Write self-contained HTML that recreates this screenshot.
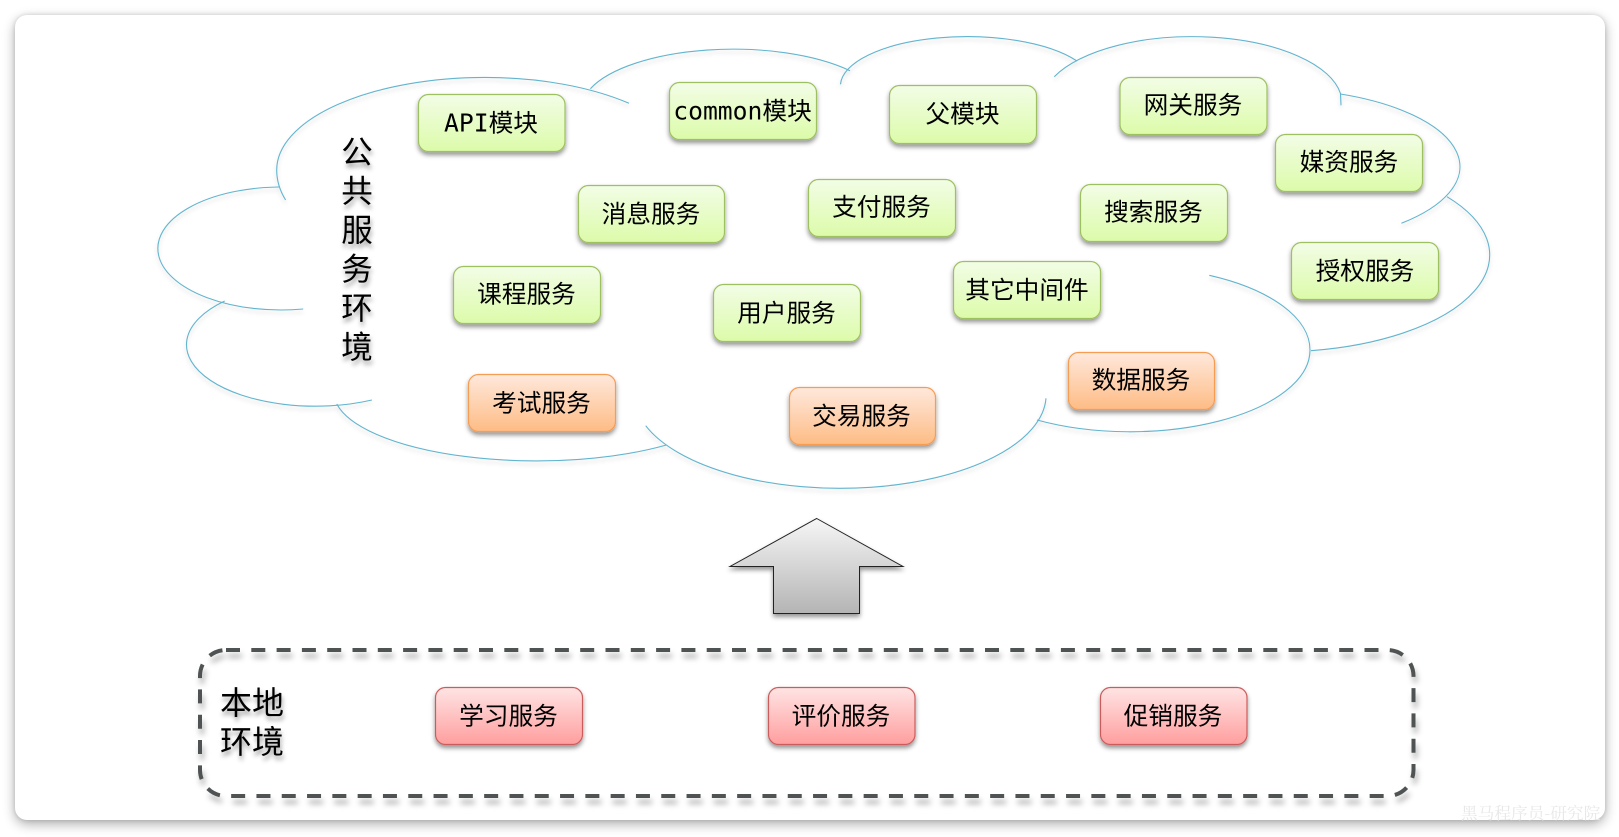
<!DOCTYPE html>
<html><head><meta charset="utf-8"><style>
html,body{margin:0;padding:0;background:#fff;width:1619px;height:837px;overflow:hidden}
#card{position:absolute;left:15px;top:15px;width:1589.5px;height:805px;background:#fff;border-radius:12px;box-shadow:0 4px 12px rgba(0,0,0,.33),0 0 4px rgba(0,0,0,.12)}
svg{position:absolute;left:0;top:0}
text{font-family:"DejaVu Sans Mono","WenQuanYi Zen Hei","Noto Sans CJK SC",sans-serif;fill:#000}
.t{font-size:24.7px;text-anchor:middle;transform:translateY(.5px)}
.l{font-size:31.5px;text-anchor:middle;filter:url(#ts)}
</style></head><body>
<div id="card"></div>
<svg width="1619" height="837" viewBox="0 0 1619 837" xmlns="http://www.w3.org/2000/svg">
<defs>
<linearGradient id="g" x1="0" y1="0" x2="0" y2="1"><stop offset="0" stop-color="#f2fde6"/><stop offset="1" stop-color="#dcfba9"/></linearGradient>
<linearGradient id="o" x1="0" y1="0" x2="0" y2="1"><stop offset="0" stop-color="#ffe8dc"/><stop offset="1" stop-color="#fdbc85"/></linearGradient>
<linearGradient id="r" x1="0" y1="0" x2="0" y2="1"><stop offset="0" stop-color="#ffe4e4"/><stop offset="1" stop-color="#ff9e9e"/></linearGradient>
<linearGradient id="a" x1="0" y1="0" x2="0" y2="1"><stop offset="0" stop-color="#f6f6f6"/><stop offset="1" stop-color="#b4b4b4"/></linearGradient>
<filter id="bs" x="-15%" y="-20%" width="130%" height="150%"><feDropShadow dx="0" dy="3" stdDeviation="2.5" flood-color="#000" flood-opacity=".42"/></filter>
<filter id="ls" x="-10%" y="-10%" width="120%" height="125%"><feDropShadow dx="0" dy="3" stdDeviation="2" flood-color="#000" flood-opacity=".16"/></filter>
<filter id="ds" x="-5%" y="-10%" width="110%" height="125%"><feDropShadow dx="2" dy="6" stdDeviation="3" flood-color="#000" flood-opacity=".3"/></filter>
<filter id="ts" x="-30%" y="-30%" width="160%" height="170%"><feDropShadow dx="1" dy="4" stdDeviation="2.5" flood-color="#000" flood-opacity=".4"/></filter>
</defs>

<g fill="none" stroke="#62b4cf" stroke-width="1.1" filter="url(#ls)">
<path d="M285.6 200 A208.3 103.5 0 0 1 276.7 170 A208.3 92.6 0 0 1 485 77.4 A207.6 92.6 0 0 1 629 103.3"/>
<path d="M590.4 88.7 A152 60 0 0 1 850 70.7"/>
<path d="M840.5 84.3 A127 49.4 0 0 1 1077 61"/>
<path d="M1054.3 76.7 A150 66.3 0 0 1 1340.5 93.5 L1341 105.3"/>
<path d="M1340.5 94 A187.5 78 0 0 1 1401.4 223.3"/>
<path d="M1447 196.7 A213 97 0 0 1 1311 350.7"/>
<path d="M1209.3 275.3 A180 83.2 0 0 1 1310 350 A180 81.8 0 0 1 1037 420"/>
<path d="M1046 398.3 A206 93.5 0 0 1 645.7 425.7"/>
<path d="M666.4 445 A203 69 0 0 1 336.8 404"/>
<path d="M371.9 400 A129 61.5 0 0 1 224.7 301"/>
<path d="M303.2 309 A123.3 61.5 0 1 1 279 187"/>
</g>

<g filter="url(#bs)" stroke-width="1.2">
<g fill="url(#g)" stroke="#9dc060">
<rect x="418.5" y="94.5" width="146.5" height="57" rx="10"/>
<rect x="669.5" y="82.5" width="147" height="57" rx="10"/>
<rect x="889.5" y="85.5" width="147" height="58" rx="10"/>
<rect x="1120" y="77.5" width="147" height="57" rx="10"/>
<rect x="1275.5" y="134.5" width="147" height="57" rx="10"/>
<rect x="578.5" y="185.5" width="146" height="57" rx="10"/>
<rect x="808.5" y="179.5" width="147" height="57" rx="10"/>
<rect x="1080.5" y="184.5" width="147" height="57" rx="10"/>
<rect x="453.5" y="266.5" width="147" height="57" rx="10"/>
<rect x="713.5" y="284.5" width="147" height="57" rx="10"/>
<rect x="953.5" y="261.5" width="147" height="57" rx="10"/>
<rect x="1291.5" y="242.5" width="147" height="57" rx="10"/>
</g>
<g fill="url(#o)" stroke="#f79c52">
<rect x="468.5" y="374.5" width="147" height="57" rx="10"/>
<rect x="789.5" y="387.5" width="146" height="57" rx="10"/>
<rect x="1068.5" y="352.5" width="146" height="57" rx="10"/>
</g>
<g fill="url(#r)" stroke="#cc5c5c">
<rect x="435.5" y="687.5" width="147" height="57" rx="10"/>
<rect x="768.5" y="687.5" width="146.5" height="57" rx="10"/>
<rect x="1100.5" y="687.5" width="146.5" height="57" rx="10"/>
</g>
</g>

<text class="t" x="491" y="131">API模块</text>
<text class="t" x="742.5" y="119">common模块</text>
<text class="t" x="962.5" y="122">父模块</text>
<text class="t" x="1193" y="113">网关服务</text>
<text class="t" x="1349" y="170">媒资服务</text>
<text class="t" x="651" y="222">消息服务</text>
<text class="t" x="881.5" y="215">支付服务</text>
<text class="t" x="1153.5" y="220">搜索服务</text>
<text class="t" x="526.5" y="302">课程服务</text>
<text class="t" x="786.5" y="321">用户服务</text>
<text class="t" x="1027" y="298">其它中间件</text>
<text class="t" x="1365" y="279">授权服务</text>
<text class="t" x="541.5" y="411">考试服务</text>
<text class="t" x="861.5" y="424">交易服务</text>
<text class="t" x="1141" y="388">数据服务</text>
<text class="t" x="508.5" y="724">学习服务</text>
<text class="t" x="841" y="724">评价服务</text>
<text class="t" x="1173" y="724">促销服务</text>

<text class="l" x="357" y="163">公</text>
<text class="l" x="357" y="202">共</text>
<text class="l" x="357" y="241">服</text>
<text class="l" x="357" y="280">务</text>
<text class="l" x="357" y="319">环</text>
<text class="l" x="357" y="358">境</text>

<text class="l" x="252" y="714" style="font-size:32px">本地</text>
<text class="l" x="252" y="753" style="font-size:32px">环境</text>

<polygon points="816.7,518.5 903,566.5 859.5,566.5 859.5,613.5 773.5,613.5 773.5,566.5 730,566.5" fill="url(#a)" stroke="#222" stroke-width="1" filter="url(#bs)"/>

<rect x="200" y="650" width="1213.5" height="146" rx="26" fill="none" stroke="#4f5353" stroke-width="4" stroke-dasharray="14 11.3" filter="url(#ds)"/>

<text x="1461" y="819" style="font-family:'Noto Serif CJK SC','WenQuanYi Zen Hei',serif;font-size:16.7px;fill:#e8e8e8">黑马程序员-研究院</text>
</svg>
</body></html>
